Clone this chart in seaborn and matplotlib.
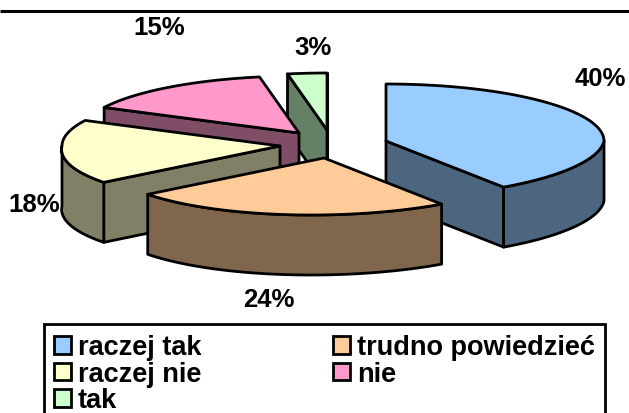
import numpy as np
import seaborn as sns
import matplotlib.pyplot as plt
from matplotlib.patches import Patch, Rectangle

# values
categories = ["raczej tak", "trudno powiedzieć", "raczej nie", "nie", "tak"]
shares = [40, 24, 18.4, 14.7, 2.9]
top_colors = ["#99CCFF", "#FFCC99", "#FFFFCC", "#FF99CC", "#CCFFCC"]

# layout, in pixels of the picture
apex_x = [386, 324, 280, 299, 327]
apex_y = [142, 159, 147, 134, 131]
label_x = [600, 269, 34, 159, 313]
label_y = [79, 300, 205, 28, 48]
draw_order = [4, 3, 2, 0, 1]
rx, ry, depth = 218, 57, 60
lean = 13  # the front of the rim draws in a little, as in a perspective view

sns.set_theme(style="white")
plt.rcParams["font.family"] = ["Liberation Sans", "DejaVu Sans"]

f, ax = plt.subplots(figsize=(6.29, 4.14), dpi=100)
f.subplots_adjust(0, 0, 1, 1)
ax.set_xlim(0, 629)
ax.set_ylim(414, 0)
ax.axis("off")

ends = np.cumsum(shares) / sum(shares) * 2 * np.pi
starts = np.r_[0, ends[:-1]]
lw = 2.0


def rim(cx, cy, a0, a1):
    t = np.linspace(a0, a1, 80)
    return cx + rx * np.sin(t) - lean * np.maximum(-np.cos(t), 0), cy - ry * np.cos(t)


def dim(color):
    r, g, b = sns.color_palette([color])[0]
    return (r * 0.5, g * 0.5, b * 0.5)


for i in draw_order:
    cx, cy = apex_x[i], apex_y[i]
    a0, a1 = starts[i], ends[i]
    side = dim(top_colors[i])

    # cut faces that look towards the viewer
    for a, show in [(a0, np.sin(a0) < 0), (a1, np.sin(a1) > 0)]:
        if show:
            ex, ey = rim(cx, cy, a, a)
            ex, ey = ex[0], ey[0]
            ax.fill([cx, ex, ex, cx], [cy, ey, ey + depth, cy + depth],
                    facecolor=side, edgecolor="black", lw=lw, joinstyle="round")

    # outer wall, front half only
    lo, hi = max(a0, np.pi / 2), min(a1, 3 * np.pi / 2)
    if hi > lo:
        x, y = rim(cx, cy, lo, hi)
        ax.fill(np.r_[x, x[::-1]], np.r_[y, y[::-1] + depth],
                facecolor=side, edgecolor="black", lw=lw, joinstyle="round")

    x, y = rim(cx, cy, a0, a1)
    ax.fill(np.r_[cx, x], np.r_[cy, y], facecolor=top_colors[i],
            edgecolor="black", lw=lw, joinstyle="round")

for v, lx, ly in zip(shares, label_x, label_y):
    t = ax.text(lx, ly, f"{round(v)}%", ha="center", va="center", fontsize=18.5,
                fontweight="bold", color="black")
    t.set_clip_path(Rectangle((10, 0), 619, 414, transform=ax.transData))

ax.plot([0, 629], [12, 12], color="black", lw=2.2, solid_capstyle="butt")

handles = [Patch(facecolor=c, edgecolor="black", lw=lw) for c in top_colors]
column_order = [0, 2, 4, 1, 3]
leg = ax.legend(
    [handles[i] for i in column_order],
    [categories[i] for i in column_order],
    ncol=2,
    loc="upper left",
    bbox_to_anchor=(44 / 629, 1 - 325 / 414),
    borderaxespad=0,
    prop={"weight": "bold", "size": 19.5},
    labelcolor="black",
    fancybox=False,
    edgecolor="black",
    framealpha=1,
    handlelength=0.62,
    handleheight=0.62,
    handletextpad=0.26,
    columnspacing=4.85,
    labelspacing=0.02,
    borderpad=0.38,
)
leg.get_frame().set_linewidth(lw)

f.savefig("out.png", dpi=100)
